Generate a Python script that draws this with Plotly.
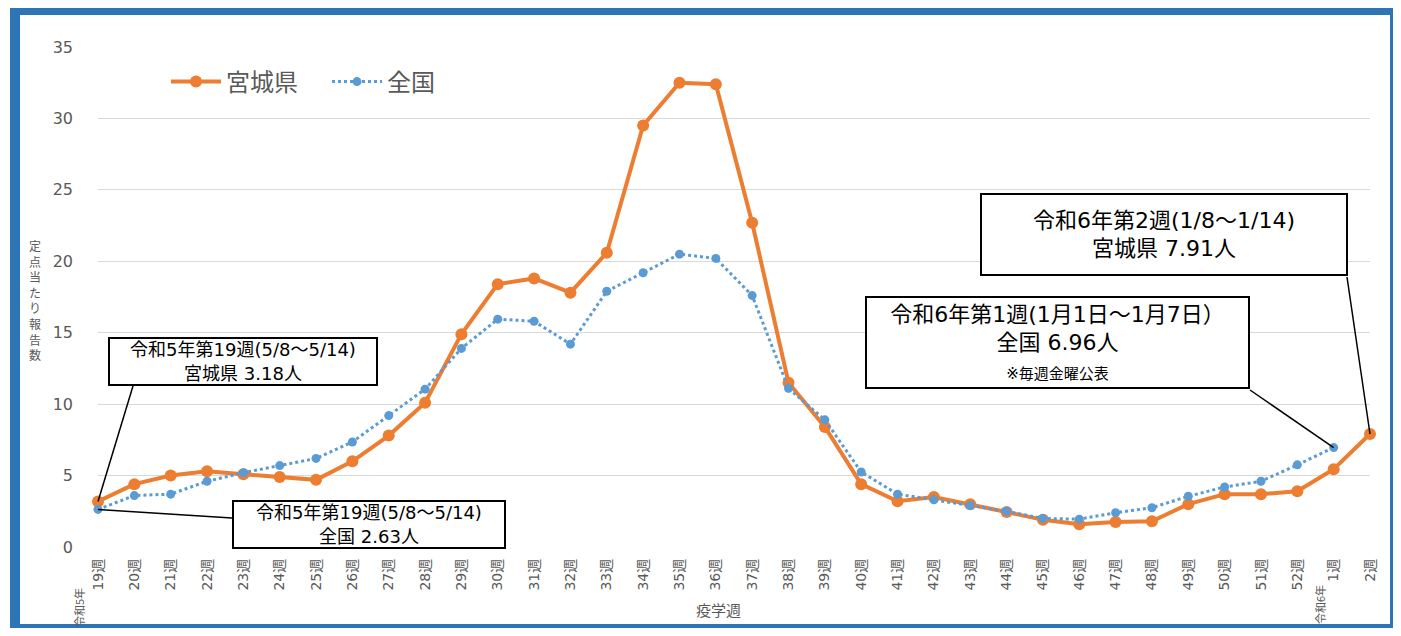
import plotly.graph_objects as go

weeks = [f"{w}週" for w in range(19, 53)] + ["1週", "2週"]
miyagi = [3.18, 4.4, 5.0, 5.3, 5.1, 4.9, 4.7, 6.0, 7.8, 10.1, 14.9, 18.4, 18.8, 17.8,
          20.6, 29.5, 32.5, 32.4, 22.7, 11.5, 8.4, 4.4, 3.2, 3.5, 3.0, 2.45, 1.9, 1.6,
          1.75, 1.8, 3.0, 3.7, 3.7, 3.9, 5.45, 7.91]
national = [2.63, 3.6, 3.7, 4.6, 5.2, 5.7, 6.2, 7.35, 9.2, 11.05, 13.9, 15.95, 15.8, 14.2,
            17.9, 19.2, 20.5, 20.2, 17.6, 11.1, 8.9, 5.25, 3.7, 3.3, 2.9, 2.5, 2.0, 1.95,
            2.4, 2.75, 3.55, 4.2, 4.6, 5.75, 6.96]
y_ticks = [0, 5, 10, 15, 20, 25, 30, 35]

ORANGE = "#ED7D31"
BLUE = "#5B9BD5"
GRAY = "#595959"
FONT = "DejaVu Sans, Noto Sans CJK JP"
CJK = "Noto Sans CJK JP"

OFF = 8                      # page body margin: figure starts at (8, 8) in the window
W, H = 1401 - OFF, 636 - 2 * OFF
L, R, T, B = 98, 1370, 47, 547   # plot area in window pixels
YMAX = 35
N = len(weeks) - 1


def px(x):
    return (x - L) / (R - L)


def py(y):
    return (B - y) / (B - T)


fig = go.Figure()
fig.add_trace(go.Scatter(
    x=weeks, y=miyagi, name="宮城県\u3000", mode="lines+markers",
    line=dict(color=ORANGE, width=4), marker=dict(color=ORANGE, size=12),
    cliponaxis=False))
fig.add_trace(go.Scatter(
    x=weeks[:len(national)], y=national, name="全国", mode="lines+markers",
    line=dict(color=BLUE, width=3, dash="dot"),
    marker=dict(color=BLUE, size=9, symbol="circle"),
    cliponaxis=False))

shapes = []
# blue frame
shapes.append(dict(type="rect", xref="paper", yref="paper", layer="below",
                   x0=px(10), x1=px(1410), y0=py(OFF), y1=py(OFF + H),
                   fillcolor="#2E75B6", line=dict(width=0)))
shapes.append(dict(type="rect", xref="paper", yref="paper", layer="below",
                   x0=px(20), x1=px(1390), y0=py(15), y1=py(OFF + H - 4),
                   fillcolor="white", line=dict(width=0)))


def leader(x_edge, y_edge, idx, val):
    shapes.append(dict(type="line", xref="paper", yref="paper",
                       x0=px(x_edge), y0=py(y_edge), x1=idx / N, y1=val / YMAX,
                       line=dict(color="black", width=1.5)))


leader(133, 386, 0, miyagi[0])
leader(232, 518, 0, national[0])
leader(1347, 277, len(miyagi) - 1, miyagi[-1])
leader(1250, 390, len(national) - 1, national[-1])

annotations = []


def box(x0, y0, x1, y1, text, size):
    annotations.append(dict(
        xref="paper", yref="paper", x=px(x0), y=py(y0), xanchor="left", yanchor="top",
        width=x1 - x0 - 4, height=y1 - y0 - 4, showarrow=False, align="center",
        valign="middle", text=text, font=dict(family=FONT, size=size, color="black"),
        bgcolor="white", bordercolor="black", borderwidth=2, borderpad=0))


box(108, 337, 378, 386, "令和5年第19週(5/8～5/14)<br>宮城県 3.18人", 18)
box(232, 500, 506, 549, "令和5年第19週(5/8～5/14)<br>全国 2.63人", 18)
box(980, 193, 1348, 276, "令和6年第2週(1/8～1/14)<br>宮城県 7.91人", 22)
box(865, 296, 1250, 389,
    "令和6年第1週(1月1日～1月7日）<br>全国 6.96人<br><span style='font-size:15px'>※毎週金曜公表</span>",
    22)

# y axis title (stacked vertical characters)
annotations.append(dict(xref="paper", yref="paper", x=px(35), y=py(300),
                        xanchor="center", yanchor="middle", showarrow=False,
                        text="<br>".join("定点当たり報告数"),
                        font=dict(family=CJK, size=12, color=GRAY)))
# year marks under the x axis
annotations.append(dict(xref="paper", yref="paper", x=px(79), y=py(608),
                        xanchor="center", yanchor="middle", showarrow=False,
                        textangle=-90, text="令和5年",
                        font=dict(family=CJK, size=11, color=GRAY)))
annotations.append(dict(xref="paper", yref="paper", x=px(1320), y=py(605),
                        xanchor="center", yanchor="middle", showarrow=False,
                        textangle=-90, text="令和6年",
                        font=dict(family=CJK, size=11, color=GRAY)))
# x axis title
annotations.append(dict(xref="paper", yref="paper", x=px(718), y=py(609),
                        xanchor="center", yanchor="middle", showarrow=False,
                        text="疫学週", font=dict(family=CJK, size=15, color=GRAY)))

fig.update_layout(
    width=W, height=H,
    margin=dict(l=L - OFF, r=1401 - R, t=T - OFF, b=OFF + H - B, pad=0),
    paper_bgcolor="white", plot_bgcolor="rgba(0,0,0,0)",
    font=dict(family=FONT, color=GRAY),
    showlegend=True,
    legend=dict(orientation="h", x=px(166), y=py(82), xanchor="left", yanchor="middle",
                font=dict(family=CJK, size=24, color=GRAY), bgcolor="rgba(0,0,0,0)",
                itemwidth=50, tracegroupgap=0),
    shapes=shapes, annotations=annotations,
)
fig.update_xaxes(type="category", range=[0, N], tickmode="array", tickvals=weeks,
                 ticktext=weeks, tickangle=-90, tickfont=dict(size=14, color=GRAY),
                 showgrid=False, zeroline=False, showline=False, ticks="",
                 ticklabelstandoff=8)
fig.update_yaxes(range=[0, YMAX], tickvals=y_ticks, tickfont=dict(size=16, color=GRAY),
                 showgrid=True, gridcolor="#D9D9D9", gridwidth=1, zeroline=False,
                 showline=False, ticks="", ticklabelstandoff=24)

fig.write_html("out.html")
